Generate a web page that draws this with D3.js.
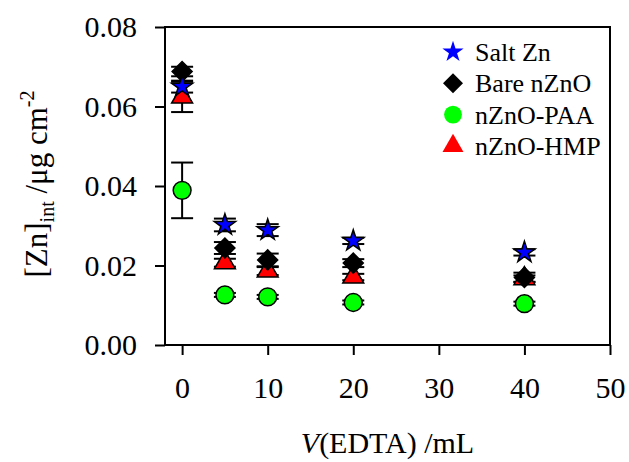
<!DOCTYPE html>
<html>
<head>
<meta charset="utf-8">
<script src="https://cdn.jsdelivr.net/npm/d3@7"></script>
<style>
  body { margin: 0; background: #fff; }
  text { font-family: "Liberation Serif", "Times New Roman", serif; fill: #000; }
</style>
</head>
<body>
<div id="chart"></div>
<script>
// data
const vEdta = [0, 5, 10, 20, 40];
const saltZn = [0.0650, 0.0302, 0.0289, 0.0262, 0.0233];
const saltZnErr = [0.0015, 0.0016, 0.0015, 0.0008, 0.0008];
const bareZnO = [0.0688, 0.0244, 0.0214, 0.0206, 0.0170];
const bareZnOErr = [0.0012, 0.0015, 0.0016, 0.0010, 0.0012];
const znoPAA = [0.0389, 0.0126, 0.0121, 0.0107, 0.0104];
const znoPAAErr = [0.0070, 0.0005, 0.0005, 0.0005, 0.0005];
const znoHMP = [0.0624, 0.0207, 0.0186, 0.0171, 0.0167];
const znoHMPErr = [0.0038, 0.0010, 0.0010, 0.0008, 0.0008];
const xTicks = [0, 10, 20, 30, 40, 50];
const yTicks = [0, 0.02, 0.04, 0.06, 0.08];

const width = 629, height = 462;
const margin = { left: 165, right: 19, top: 27, bottom: 117 };

const svg = d3.select("#chart").append("svg")
  .attr("width", width)
  .attr("height", height);

const x = d3.scaleLinear().domain([-2, 50]).range([margin.left, width - margin.right]);
const y = d3.scaleLinear().domain([0, 0.08]).range([height - margin.bottom, margin.top]);

// frame
svg.append("rect")
  .attr("x", x(-2)).attr("y", y(0.08))
  .attr("width", x(50) - x(-2)).attr("height", y(0) - y(0.08))
  .attr("fill", "none").attr("stroke", "#000").attr("stroke-width", 2);

// axes
const xAxis = svg.append("g")
  .attr("transform", `translate(0,${y(0)})`)
  .call(d3.axisBottom(x).tickValues(xTicks).tickSize(10).tickPadding(22).tickFormat(d3.format("d")));
const yAxis = svg.append("g")
  .attr("transform", `translate(${x(-2)},0)`)
  .call(d3.axisLeft(y).tickValues(yTicks).tickSize(10).tickPadding(18).tickFormat(d3.format(".2f")));

[xAxis, yAxis].forEach(g => {
  g.select(".domain").remove();
  g.selectAll(".tick line").attr("stroke", "#000").attr("stroke-width", 2);
  g.selectAll(".tick text")
    .attr("font-family", "Liberation Serif, Times New Roman, serif")
    .attr("font-size", 30).attr("fill", "#000");
});

// drawing order: triangle, diamond, star, circle
const series = [
  { name: "nZnO-HMP", vals: znoHMP, err: znoHMPErr, type: "triangle", color: "#ff0000" },
  { name: "Bare nZnO", vals: bareZnO, err: bareZnOErr, type: "diamond", color: "#000000" },
  { name: "Salt Zn", vals: saltZn, err: saltZnErr, type: "star", color: "#0000ff" },
  { name: "nZnO-PAA", vals: znoPAA, err: znoPAAErr, type: "circle", color: "#00ff00" }
];

function symbolPath(type) {
  if (type === "star") return d3.symbol().type(d3.symbolStar).size(140)();
  if (type === "diamond") return d3.symbol().type(d3.symbolSquare).size(200)();
  if (type === "triangle") return d3.symbol().type(d3.symbolTriangle).size(190)();
  return d3.symbol().type(d3.symbolCircle).size(250)();
}

// error bars
const capW = 11;
series.forEach(s => {
  const g = svg.append("g").attr("stroke", "#000").attr("stroke-width", 2);
  const pts = vEdta.map((v, i) => ({ v, val: s.vals[i], e: s.err[i] }));
  g.selectAll("line.v").data(pts).enter().append("line")
    .attr("x1", d => x(d.v)).attr("x2", d => x(d.v))
    .attr("y1", d => y(d.val - d.e)).attr("y2", d => y(d.val + d.e));
  g.selectAll("line.top").data(pts).enter().append("line")
    .attr("x1", d => x(d.v) - capW).attr("x2", d => x(d.v) + capW)
    .attr("y1", d => y(d.val + d.e)).attr("y2", d => y(d.val + d.e));
  g.selectAll("line.bot").data(pts).enter().append("line")
    .attr("x1", d => x(d.v) - capW).attr("x2", d => x(d.v) + capW)
    .attr("y1", d => y(d.val - d.e)).attr("y2", d => y(d.val - d.e));
});

// markers
series.forEach(s => {
  svg.append("g").selectAll("path")
    .data(vEdta.map((v, i) => ({ v, val: s.vals[i] })))
    .enter().append("path")
    .attr("d", symbolPath(s.type))
    .attr("transform", d => `translate(${x(d.v)},${y(d.val)})` + (s.type === "diamond" ? " rotate(45)" : ""))
    .attr("fill", s.color)
    .attr("stroke", "#000")
    .attr("stroke-width", 1.5);
});

// legend
const legendOrder = ["Salt Zn", "Bare nZnO", "nZnO-PAA", "nZnO-HMP"];
const leg = svg.append("g").attr("transform", "translate(453,52)");
legendOrder.forEach((name, i) => {
  const s = series.find(d => d.name === name);
  const row = leg.append("g").attr("transform", `translate(0,${i * 31.3})`);
  row.append("path")
    .attr("d", symbolPath(s.type))
    .attr("transform", s.type === "diamond" ? "rotate(45)" : null)
    .attr("fill", s.color);
  row.append("text")
    .attr("x", 22).attr("y", 9)
    .attr("font-size", 26)
    .text(name);
});

// axis titles
const xt = svg.append("text")
  .attr("x", (x(-2) + x(50)) / 2).attr("y", 453)
  .attr("text-anchor", "middle")
  .attr("font-size", 30);
xt.append("tspan").attr("font-style", "italic").text("V");
xt.append("tspan").text("(EDTA) /mL");

const yt = svg.append("text")
  .attr("transform", "translate(47,184) rotate(-90)")
  .attr("text-anchor", "middle")
  .attr("font-size", 31);
yt.append("tspan").text("[Zn]");
yt.append("tspan").attr("font-size", 20).attr("dy", 7).text("int");
yt.append("tspan").attr("dy", -7).text(" /μg cm");
yt.append("tspan").attr("font-size", 20).attr("dy", -13).text("-2");
</script>
</body>
</html>
